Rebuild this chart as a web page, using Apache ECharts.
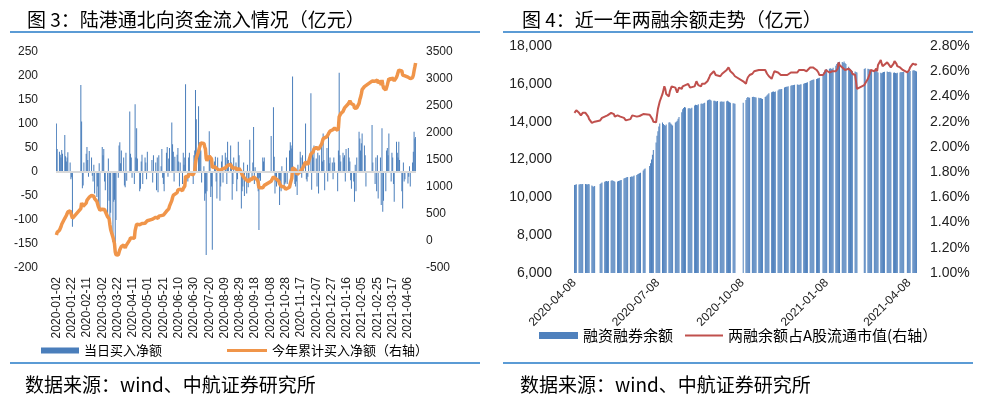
<!DOCTYPE html>
<html>
<head>
<meta charset="utf-8">
<script src="https://cdn.jsdelivr.net/npm/echarts/dist/echarts.min.js"></script>
<style>
html, body { margin: 0; padding: 0; background: #fff; }
#report { width: 990px; height: 397px; }
</style>
</head>
<body>
<div id="report"></div>
<script>
// 交易所休市日（周末之外）
var holidays = ['2020-01-01', '2020-01-24', '2020-01-27', '2020-01-28', '2020-01-29', '2020-01-30', '2020-01-31',
	'2020-04-06', '2020-05-01', '2020-05-04', '2020-05-05', '2020-06-25', '2020-06-26',
	'2020-10-01', '2020-10-02', '2020-10-05', '2020-10-06', '2020-10-07', '2020-10-08',
	'2021-01-01', '2021-02-11', '2021-02-12', '2021-02-15', '2021-02-16', '2021-02-17', '2021-04-05'];

var leftTicks = ['2020-01-02', '2020-01-22', '2020-02-11', '2020-03-02', '2020-03-22', '2020-04-11', '2020-05-01',
	'2020-05-21', '2020-06-10', '2020-06-30', '2020-07-20', '2020-08-09', '2020-08-29', '2020-09-18', '2020-10-08',
	'2020-10-28', '2020-11-17', '2020-12-07', '2020-12-27', '2021-01-16', '2021-02-05', '2021-02-25', '2021-03-17',
	'2021-04-06'];
var rightTicks = ['2020-04-08', '2020-07-08', '2020-10-08', '2021-01-08', '2021-04-08'];

// 当日买入净额（亿元），按月逐个交易日
var flowJan20 = [101, 48, 42, 36, 30, 46, 38, 77, 33, 22, 30, 41, 20, -15, -11, -114];
var flowFeb20 = [181, 105, -34, -28, 20, 38, 52, 25, -10, 44, 30, -8, -20, 15, -45, -52, -30, -69, 18, -80];
var flowMar20 = [52, 35, 48, -20, -38, -95, 28, -60, -110, -85, -146, -62, -58, -166, -100, -12, 55, 62, 18, 45, 30, -28];
var flowApr20 = [-32, 40, -18, 126, 38, 30, -12, -25, 141, 30, 91, 28, -40, -35, 22, 36, -25, 30, 20, -15, 42];
var flowMay20 = [25, -22, 35, 20, -38, 30, -42, 35, 12, 48, -12, -25, -40, 40, 52, -10, 28, 50];
var flowJun20 = [103, 58, 42, -20, 32, 36, 50, 22, -30, 20, -25, 40, 15, 30, 183, -20, 30, 40, -25, 35];
var flowJul20 = [45, 171, 110, 137, 62, 50, 45, -22, 12, -60, -45, -173, -40, 85, 28, -52, -30, -162, 22, 32, -20, -55, 30];
var flowAug20 = [-60, -30, 22, 35, -22, 40, 30, -25, 63, 25, 55, 20, -58, -25, 30, 20, -40, -15, 63, 35, -76];
var flowSep20 = [-40, -30, 20, -50, -45, 15, -32, -20, 67, -15, 20, 94, -25, 10, -30, -40, -121, -12, -18, 30, 22, 30];
var flowOct20 = [75, 135, 32, -45, -20, -30, -15, -69, -20, -40, 12, -30, -25, -22, 30, -25];
var flowNov20 = [45, 62, 55, 49, 199, -25, -30, -20, -48, 15, 42, 30, -12, 35, 20, 101, -15, -20, -10, 30, 164];
var flowDec20 = [-37, 45, 30, 55, 28, -30, 40, -45, 35, 60, 22, 80, 25, -38, 50, -20, 75, 18, 30, 20, -15, 30, 20];
var flowJan21 = [-40, 45, 207, 35, 22, 40, 30, 35, -20, 48, 50, 30, 22, -17, -35, -20, -62, 15, -40, 30];
var flowFeb21 = [84, 70, 45, 60, 80, 55, 35, -30, 98, 20, -25, 30, -40, 35, -55];
var flowMar21 = [30, -69, 91, -83, -60, -40, 45, 50, 35, 80, -20, 40, 30, -25, -62, 63, 40, 30, 63, 25, -40, -76, 20];
var flowApr21 = [-20, -15, -24, -10, 12, -30, 20, 42, 84, 70, 73];

// 今年累计买入净额（亿元，右轴）
var cumJan20 = [110, 160, 200, 235, 265, 310, 345, 420, 452, 472, 500, 540, 560, 545, 534, 420];
var cumFeb20 = [600, 705, 671, 643, 663, 701, 753, 778, 768, 812, 842, 834, 814, 829, 784, 732, 702, 633, 651, 571];
var cumMar20 = [590, 600, 610, 585, 545, 450, 470, 410, 300, 215, 70, 10, -50, -200, -255, -260, -210, -160, -140, -100, -75, -100];
var cumApr20 = [-130, -90, -105, 20, 58, 88, 76, 51, 192, 222, 313, 341, 301, 266, 288, 324, 299, 329, 349, 334, 376];
var cumMay20 = [400, 385, 420, 440, 410, 440, 420, 460, 470, 505, 495, 480, 470, 550, 580, 570, 595, 645];
var cumJun20 = [748, 806, 848, 828, 860, 896, 946, 968, 938, 958, 933, 973, 988, 1018, 1201, 1181, 1211, 1251, 1226, 1261];
var cumJul20 = [1290, 1440, 1530, 1660, 1720, 1770, 1815, 1795, 1807, 1747, 1702, 1529, 1489, 1574, 1602, 1550, 1520, 1358, 1380, 1412, 1392, 1337, 1367];
var cumAug20 = [1307, 1277, 1299, 1334, 1312, 1352, 1382, 1357, 1400, 1410, 1420, 1400, 1352, 1327, 1345, 1350, 1320, 1305, 1330, 1345, 1270];
var cumSep20 = [1230, 1200, 1215, 1165, 1125, 1135, 1110, 1095, 1150, 1140, 1160, 1190, 1170, 1175, 1130, 1090, 985, 975, 960, 985, 1005, 1030];
var cumOct20 = [1105, 1190, 1220, 1175, 1155, 1125, 1110, 1060, 1045, 1015, 1025, 1000, 980, 960, 985, 950];
var cumNov20 = [995, 1057, 1112, 1161, 1355, 1330, 1300, 1280, 1232, 1247, 1289, 1319, 1307, 1342, 1362, 1463, 1448, 1428, 1418, 1448, 1612];
var cumDec20 = [1575, 1620, 1650, 1705, 1733, 1703, 1743, 1698, 1733, 1793, 1815, 1895, 1920, 1882, 1932, 1912, 1987, 2005, 2035, 2055, 2040, 2070, 2090];
var cumJan21 = [2050, 2095, 2302, 2337, 2359, 2399, 2429, 2464, 2444, 2492, 2542, 2572, 2594, 2577, 2542, 2522, 2460, 2475, 2435, 2465];
var cumFeb21 = [2549, 2619, 2664, 2724, 2804, 2859, 2894, 2864, 2962, 2982, 2957, 2987, 2947, 2982, 2927];
var cumMar21 = [2957, 2888, 2979, 2896, 2836, 2796, 2841, 2891, 2926, 3006, 2986, 3026, 3056, 3031, 2969, 3032, 3072, 3102, 3165, 3190, 3150, 3074, 3094];
var cumApr21 = [3074, 3059, 3035, 3025, 3037, 3007, 3027, 3069, 3153, 3223, 3296];

// 融资融券余额（亿元），2020-04-08 起
var marginApr20 = [10650, 10660, 10690, 10680, 10690, 10700, 10690, 10700, 10710, 10690, 10680, 10700, 10690, 10620, 10580, 10560, 10600];
var marginMay20 = [10700, 10750, 10790, 10830, 10850, 10860, 10840, 10870, 10880, 10900, 10880, 10860, 10820, 10840, 10870, 10880, 10900, 10920];
var marginJun20 = [11000, 11020, 11040, 11060, 11070, 11080, 11100, 11090, 11120, 11150, 11180, 11220, 11250, 11270, 11300, 11420, 11480, 11520, 11650, 11800];
var marginJul20 = [12000, 12250, 12500, 12900, 13250, 13500, 13750, 13900, 13950, 13880, 13820, 13780, 13850, 13950, 13970, 13900, 13850, 13800, 13950, 14000, 14050, 14150, 14250];
var marginAug20 = [14500, 14650, 14720, 14780, 14750, 14700, 14720, 14680, 14700, 14730, 14850, 14900, 14880, 14870, 14920, 14950, 14960, 14940, 14980, 15000, 15120];
var marginSep20 = [15150, 15170, 15160, 15120, 15100, 15110, 15080, 15060, 15090, 15050, 15060, 15070, 15040, 15060, 15080, 15100, 15060, 15020, 15000, 14980, 14960, 14950];
var marginOct20 = [15000, 15150, 15250, 15300, 15280, 15270, 15300, 15320, 15310, 15290, 15280, 15260, 15240, 15250, 15230, 15200];
var marginNov20 = [15300, 15350, 15400, 15450, 15500, 15550, 15580, 15600, 15570, 15590, 15650, 15700, 15720, 15710, 15730, 15800, 15830, 15850, 15840, 15870, 15900];
var marginDec20 = [15920, 15930, 15940, 15950, 15960, 15950, 15940, 15960, 15980, 16000, 16030, 16050, 16060, 16080, 16150, 16180, 16200, 16220, 16230, 16260, 16280, 16300, 16320];
var marginJan21 = [16500, 16620, 16700, 16750, 16780, 16800, 16820, 16800, 16790, 16850, 16950, 17050, 17120, 17160, 17170, 17150, 17120, 17180, 17100, 17050];
var marginFeb21 = [16900, 16820, 16780, 16720, 16680, 16650, 16620, 16600, 16780, 16820, 16800, 16780, 16760, 16750, 16720];
var marginMar21 = [16700, 16750, 16720, 16650, 16600, 16580, 16560, 16600, 16620, 16640, 16650, 16630, 16620, 16640, 16600, 16580, 16600, 16570, 16560, 16580, 16600, 16620, 16610];
var marginApr21 = [16620, 16640, 16620, 16600, 16650, 16680, 16700, 16720, 16700, 16680, 16650];

// 两融余额占A股流通市值（%，右轴）
var ratioApr20 = [2.27, 2.28, 2.29, 2.27, 2.255, 2.25, 2.26, 2.27, 2.27, 2.26, 2.255, 2.24, 2.22, 2.19, 2.19, 2.20, 2.20];
var ratioMay20 = [2.21, 2.22, 2.23, 2.24, 2.235, 2.245, 2.25, 2.26, 2.27, 2.285, 2.275, 2.26, 2.24, 2.25, 2.245, 2.235, 2.24, 2.23];
var ratioJun20 = [2.23, 2.22, 2.21, 2.215, 2.21, 2.22, 2.235, 2.25, 2.255, 2.245, 2.24, 2.25, 2.255, 2.245, 2.25, 2.26, 2.265, 2.27, 2.255, 2.245];
var ratioJul20 = [2.24, 2.22, 2.20, 2.195, 2.25, 2.30, 2.33, 2.36, 2.42, 2.45, 2.48, 2.46, 2.42, 2.40, 2.44, 2.46, 2.48, 2.49, 2.47, 2.45, 2.43, 2.45, 2.47];
var ratioAug20 = [2.46, 2.48, 2.47, 2.48, 2.49, 2.50, 2.49, 2.47, 2.48, 2.46, 2.48, 2.50, 2.52, 2.51, 2.49, 2.48, 2.50, 2.49, 2.51, 2.50, 2.52];
var ratioSep20 = [2.53, 2.55, 2.57, 2.58, 2.60, 2.59, 2.57, 2.56, 2.555, 2.56, 2.57, 2.58, 2.57, 2.59, 2.61, 2.62, 2.63, 2.62, 2.60, 2.58, 2.57, 2.56];
var ratioOct20 = [2.52, 2.50, 2.53, 2.55, 2.56, 2.57, 2.58, 2.59, 2.60, 2.59, 2.60, 2.61, 2.60, 2.62, 2.61, 2.62];
var ratioNov20 = [2.61, 2.60, 2.58, 2.57, 2.56, 2.54, 2.56, 2.58, 2.60, 2.60, 2.59, 2.59, 2.58, 2.57, 2.58, 2.57, 2.56, 2.56, 2.57, 2.58, 2.59];
var ratioDec20 = [2.59, 2.60, 2.59, 2.60, 2.59, 2.59, 2.61, 2.62, 2.62, 2.61, 2.60, 2.61, 2.60, 2.61, 2.63, 2.64, 2.64, 2.63, 2.62, 2.61, 2.60, 2.59, 2.57];
var ratioJan21 = [2.57, 2.58, 2.59, 2.61, 2.60, 2.59, 2.58, 2.59, 2.60, 2.59, 2.60, 2.59, 2.62, 2.67, 2.65, 2.63, 2.62, 2.63, 2.61, 2.60];
var ratioFeb21 = [2.62, 2.62, 2.61, 2.60, 2.58, 2.57, 2.52, 2.46, 2.49, 2.50, 2.54, 2.55, 2.58, 2.61, 2.60];
var ratioMar21 = [2.60, 2.59, 2.62, 2.60, 2.65, 2.69, 2.66, 2.64, 2.63, 2.65, 2.67, 2.66, 2.65, 2.64, 2.63, 2.66, 2.68, 2.69, 2.66, 2.64, 2.63, 2.62, 2.62];
var ratioApr21 = [2.61, 2.60, 2.59, 2.59, 2.61, 2.63, 2.66, 2.67, 2.66, 2.65, 2.66];

var flowByMonth = { '2020-01': flowJan20, '2020-02': flowFeb20, '2020-03': flowMar20, '2020-04': flowApr20,
	'2020-05': flowMay20, '2020-06': flowJun20, '2020-07': flowJul20, '2020-08': flowAug20, '2020-09': flowSep20,
	'2020-10': flowOct20, '2020-11': flowNov20, '2020-12': flowDec20, '2021-01': flowJan21, '2021-02': flowFeb21,
	'2021-03': flowMar21, '2021-04': flowApr21 };
var cumByMonth = { '2020-01': cumJan20, '2020-02': cumFeb20, '2020-03': cumMar20, '2020-04': cumApr20,
	'2020-05': cumMay20, '2020-06': cumJun20, '2020-07': cumJul20, '2020-08': cumAug20, '2020-09': cumSep20,
	'2020-10': cumOct20, '2020-11': cumNov20, '2020-12': cumDec20, '2021-01': cumJan21, '2021-02': cumFeb21,
	'2021-03': cumMar21, '2021-04': cumApr21 };
var marginByMonth = { '2020-04': marginApr20, '2020-05': marginMay20, '2020-06': marginJun20, '2020-07': marginJul20,
	'2020-08': marginAug20, '2020-09': marginSep20, '2020-10': marginOct20, '2020-11': marginNov20,
	'2020-12': marginDec20, '2021-01': marginJan21, '2021-02': marginFeb21, '2021-03': marginMar21, '2021-04': marginApr21 };
var ratioByMonth = { '2020-04': ratioApr20, '2020-05': ratioMay20, '2020-06': ratioJun20, '2020-07': ratioJul20,
	'2020-08': ratioAug20, '2020-09': ratioSep20, '2020-10': ratioOct20, '2020-11': ratioNov20,
	'2020-12': ratioDec20, '2021-01': ratioJan21, '2021-02': ratioFeb21, '2021-03': ratioMar21, '2021-04': ratioApr21 };

// 日历日（日期轴）
function days(from, to) {
	var out = [], t = Date.parse(from + 'T00:00:00Z'), end = Date.parse(to + 'T00:00:00Z');
	for (; t <= end; t += 864e5) out.push(new Date(t).toISOString().slice(0, 10));
	return out;
}
function isTrading(d) {
	var w = new Date(d + 'T00:00:00Z').getUTCDay();
	return w > 0 && w < 6 && holidays.indexOf(d) < 0;
}
// 把每月的交易日数据放到日历日上，非交易日为空
function spread(dates, byMonth) {
	var pos = {};
	return dates.map(function(d) {
		if (!isTrading(d)) return null;
		var m = d.slice(0, 7), list = byMonth[m];
		if (!list) return null;
		pos[m] = pos[m] || 0;
		var v = list[pos[m]++];
		return v === undefined ? null : v;
	});
}

var leftDays = days('2020-01-02', '2021-04-16');
var rightDays = days('2020-04-08', '2021-04-16');

var cjk = 'Noto Sans CJK SC';
var latin = 'Liberation Sans';

function legendItem(name, left, top, w, h, size) {
	return {
		data : [ { name : name, icon : 'rect' } ],
		left : left, top : top,
		itemWidth : w, itemHeight : h,
		textStyle : { fontSize : size, color : '#000', fontFamily : cjk }
	};
}

var myChart = echarts.init(document.getElementById('report'));
var option = {
	animation : false,
	backgroundColor : '#fff',
	title : [ {
		text : '图 3：陆港通北向资金流入情况（亿元）',
		left : 22, top : 5,
		textStyle : { fontSize : 19, fontWeight : 'normal', color : '#000', fontFamily : cjk }
	}, {
		text : '图 4：近一年两融余额走势（亿元）',
		left : 517, top : 5,
		textStyle : { fontSize : 19, fontWeight : 'normal', color : '#000', fontFamily : cjk }
	}, {
		text : '数据来源：wind、中航证券研究所',
		left : 20, top : 370,
		textStyle : { fontSize : 19, fontWeight : 'normal', color : '#000', fontFamily : cjk }
	}, {
		text : '数据来源：wind、中航证券研究所',
		left : 515, top : 370,
		textStyle : { fontSize : 19, fontWeight : 'normal', color : '#000', fontFamily : cjk }
	} ],
	graphic : [
		{ type : 'rect', shape : { x : 10, y : 31, width : 470, height : 2 }, style : { fill : '#5B9BD5' } },
		{ type : 'rect', shape : { x : 503, y : 31, width : 470, height : 2 }, style : { fill : '#5B9BD5' } },
		{ type : 'rect', shape : { x : 10, y : 362, width : 470, height : 2 }, style : { fill : '#5B9BD5' } },
		{ type : 'rect', shape : { x : 503, y : 362, width : 470, height : 2 }, style : { fill : '#5B9BD5' } }
	],
	legend : [
		legendItem('当日买入净额', 36, 339, 38, 6, 13),
		legendItem('今年累计买入净额（右轴）', 222, 339, 40, 3, 13),
		legendItem('融资融券余额', 534, 323, 39, 7, 15),
		legendItem('两融余额占A股流通市值(右轴）', 680, 323, 38, 2, 15)
	],
	grid : [
		{ left : 56, top : 52, width : 360, height : 216 },
		{ left : 574, top : 46, width : 343, height : 227 }
	],
	xAxis : [ {
		type : 'category', gridIndex : 0, data : leftDays,
		axisLine : { show : false }, axisTick : { show : false },
		axisLabel : {
			rotate : 90, margin : 9, fontSize : 12, color : '#222', fontFamily : latin,
			interval : function(i, v) { return leftTicks.indexOf(v) >= 0; }
		}
	}, {
		type : 'category', gridIndex : 1, data : rightDays,
		axisLine : { show : false }, axisTick : { show : false },
		axisLabel : {
			rotate : 45, margin : 8, fontSize : 12, color : '#222', fontFamily : latin,
			interval : function(i, v) { return rightTicks.indexOf(v) >= 0; }
		}
	} ],
	yAxis : [ {
		type : 'value', gridIndex : 0, min : -200, max : 250, interval : 50, position : 'left',
		splitLine : { show : false }, axisLine : { show : false }, axisTick : { show : false },
		axisLabel : { margin : 18, fontSize : 12, color : '#222', fontFamily : latin }
	}, {
		type : 'value', gridIndex : 0, min : -500, max : 3500, interval : 500, position : 'right',
		splitLine : { show : false }, axisLine : { show : false }, axisTick : { show : false },
		axisLabel : {
			margin : 10, fontSize : 12, color : '#222', fontFamily : latin,
			formatter : function(v) { return String(v); }
		}
	}, {
		type : 'value', gridIndex : 1, min : 6000, max : 18000, interval : 2000, position : 'left',
		splitLine : { show : false }, axisLine : { show : false }, axisTick : { show : false },
		axisLabel : {
			margin : 22, fontSize : 14, color : '#222', fontFamily : latin,
			formatter : function(v) { return v.toLocaleString('en-US'); }
		}
	}, {
		type : 'value', gridIndex : 1, min : 1.0, max : 2.8, interval : 0.2, position : 'right',
		splitLine : { show : false }, axisLine : { show : false }, axisTick : { show : false },
		axisLabel : {
			margin : 13, fontSize : 14, color : '#222', fontFamily : latin,
			formatter : function(v) { return v.toFixed(2) + '%'; }
		}
	} ],
	series : [ {
		name : '当日买入净额',
		type : 'bar', xAxisIndex : 0, yAxisIndex : 0,
		data : spread(leftDays, flowByMonth),
		barWidth : 1,
		itemStyle : { color : '#4A7EBB' },
		markLine : {
			silent : true, symbol : 'none', label : { show : false },
			lineStyle : { color : '#D9D9D9', width : 2, type : 'solid' },
			data : [ { yAxis : 0 } ]
		}
	}, {
		name : '今年累计买入净额（右轴）',
		type : 'line', xAxisIndex : 0, yAxisIndex : 1,
		data : spread(leftDays, cumByMonth),
		connectNulls : true, symbol : 'none',
		lineStyle : { color : '#F0954A', width : 3.5 },
		itemStyle : { color : '#F0954A' }
	}, {
		name : '融资融券余额',
		type : 'bar', xAxisIndex : 1, yAxisIndex : 2,
		data : spread(rightDays, marginByMonth),
		barCategoryGap : '0%',
		itemStyle : { color : '#4F81BD' }
	}, {
		name : '两融余额占A股流通市值(右轴）',
		type : 'line', xAxisIndex : 1, yAxisIndex : 3,
		data : spread(rightDays, ratioByMonth),
		connectNulls : true, symbol : 'none',
		lineStyle : { color : '#C0504D', width : 2 },
		itemStyle : { color : '#C0504D' }
	} ]
};
myChart.setOption(option);
</script>
</body>
</html>
